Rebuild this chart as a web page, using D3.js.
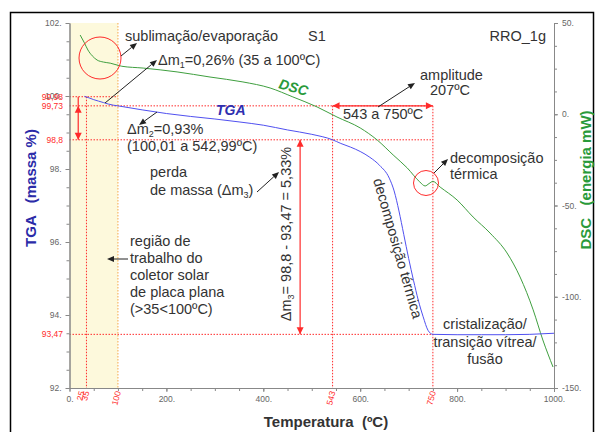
<!DOCTYPE html>
<html>
<head>
<meta charset="utf-8">
<script src="https://cdn.jsdelivr.net/npm/d3@7"></script>
<style>
  body { margin: 0; background: #fff; }
  svg { display: block; font-family: "Liberation Sans", Arial, sans-serif; }
  .ann { font-size: 14.5px; fill: #333; }
  .axis text { font-size: 8.5px; fill: #666; font-family: "Liberation Sans", Arial, sans-serif; }
  .axis path, .axis line { stroke: #888; }
</style>
</head>
<body>
<div id="chart"></div>
<script>
// TGA curve (mass %) vs temperature
const tgaTemp = [31, 40, 50, 60, 70, 80, 90, 100, 150, 200, 250, 300, 350, 400, 450, 500, 543,
                 560, 580, 600, 620, 640, 660, 670, 680, 690, 700, 710, 720, 730, 740, 750,
                 800, 850, 900, 950, 1000];
const tgaMass = [99.99, 99.95, 99.90, 99.86, 99.82, 99.78, 99.75, 99.73, 99.62, 99.52, 99.44, 99.37, 99.29, 99.20, 99.07, 98.95, 98.80,
                 98.70, 98.60, 98.48, 98.32, 98.10, 97.75, 97.40, 96.85, 96.20, 95.55, 94.95, 94.40, 93.95, 93.58, 93.47,
                 93.46, 93.46, 93.46, 93.47, 93.50];
// DSC curve (mW) vs temperature
const dscTemp = [22, 30, 38, 47, 57, 70, 84, 108, 152, 222, 290, 358, 414, 461, 511, 552, 600, 635, 668, 697,
                 723, 734, 742, 750, 765, 800, 833, 868, 903, 930, 957, 977, 998];
const dscPower = [43.4, 39.5, 35.2, 32.0, 29.7, 28.6, 28.0, 26.3, 25.3, 23.2, 20.4, 17.7, 14.4, 9.5, 4.0, -1.5, -7.5, -14.1, -22.3, -29.4,
                  -37.1, -39.3, -38.0, -36.8, -39.9, -47.0, -56.3, -65.1, -76.0, -89.2, -107.2, -123.7, -138.5];

const tempTicks = [0, 200, 400, 600, 800, 1000];
const massTicks = [92, 94, 96, 98, 100, 102];
const powerTicks = [-150, -100, -50, 0, 50];

// reference marks (red)
const refTemps = [25, 35, 100, 543, 750];
const refMass = [99.98, 99.73, 98.8, 93.47];
const refMassLabels = ["99,98", "99,73", "98,8", "93,47"];

const W = 595, H = 432;
const red = "#ff2b2b";

const svg = d3.select("#chart").append("svg")
  .attr("width", W).attr("height", H);

const x = d3.scaleLinear().domain([0, 1000]).range([69.5, 554]);
const yT = d3.scaleLinear().domain([92, 102]).range([388, 23]);
const yD = d3.scaleLinear().domain([-150, 50]).range([388, 23]);

// outer frame
svg.append("rect")
  .attr("x", 10.5).attr("y", 12.5).attr("width", 583).attr("height", 430)
  .attr("fill", "none").attr("stroke", "#000").attr("stroke-width", 1.5);

// working range band 0-100 C
svg.append("rect")
  .attr("x", x(0)).attr("y", yT(102))
  .attr("width", x(100) - x(0)).attr("height", yT(92) - yT(102))
  .attr("fill", "#fdf9dc");

// dotted reference lines
function dotted(x1, y1, x2, y2, color) {
  svg.append("line")
    .attr("x1", x1).attr("y1", y1).attr("x2", x2).attr("y2", y2)
    .attr("stroke", color || red).attr("stroke-width", 1)
    .attr("stroke-dasharray", "1.5,1.5");
}
dotted(x(0), yT(99.98), x(100), yT(99.98));
dotted(x(0), yT(99.73), x(750), yT(99.73));
dotted(x(0), yT(98.8), x(750), yT(98.8));
dotted(x(0), yT(93.47), x(750), yT(93.47));
dotted(x(35), yT(99.98), x(35), yT(92));
dotted(x(543), yT(99.73), x(543), yT(92));
dotted(x(750), yT(99.73), x(750), yT(92));
dotted(x(100), yT(102), x(100), yT(92), "#f5a84a");

// axes
svg.append("g").attr("class", "axis")
  .attr("transform", "translate(" + x(0) + ",0)")
  .call(d3.axisLeft(yT).tickValues(d3.range(92, 102.01, 0.5)).tickSize(3).tickSizeOuter(0).tickFormat(""));
svg.append("g").attr("class", "axis")
  .attr("transform", "translate(" + x(0) + ",0)")
  .call(d3.axisLeft(yT).tickValues(massTicks).tickSize(4).tickPadding(4).tickSizeOuter(0)
    .tickFormat(function(d) { return d + "."; }));

svg.append("g").attr("class", "axis")
  .attr("transform", "translate(" + x(1000) + ",0)")
  .call(d3.axisRight(yD).tickValues(d3.range(-150, 50.01, 12.5)).tickSize(3).tickSizeOuter(0).tickFormat(""));
svg.append("g").attr("class", "axis")
  .attr("transform", "translate(" + x(1000) + ",0)")
  .call(d3.axisRight(yD).tickValues(powerTicks).tickSize(4).tickPadding(4).tickSizeOuter(0)
    .tickFormat(function(d) { return d + "."; }));

svg.append("g").attr("class", "axis")
  .attr("transform", "translate(0," + yT(92) + ")")
  .call(d3.axisBottom(x).tickValues(d3.range(0, 1000.1, 50)).tickSize(3).tickSizeOuter(0).tickFormat(""));
svg.append("g").attr("class", "axis")
  .attr("transform", "translate(0," + yT(92) + ")")
  .call(d3.axisBottom(x).tickValues(tempTicks).tickSize(4).tickPadding(4).tickSizeOuter(0)
    .tickFormat(function(d) { return d + "."; }));

// red reference labels
svg.selectAll(".refm").data(refMass).enter().append("text")
  .attr("class", "refm")
  .attr("x", 63).attr("y", function(d) { return yT(d) + 3; })
  .attr("text-anchor", "end")
  .style("font-size", "8.5px").style("fill", red)
  .text(function(d, i) { return refMassLabels[i]; });

svg.selectAll(".reft").data(refTemps).enter().append("text")
  .attr("class", "reft")
  .attr("transform", function(d) { return "translate(" + (x(d) + 3) + "," + (yT(92) + 4) + ") rotate(-75)"; })
  .attr("text-anchor", "end")
  .style("font-size", "8.5px").style("fill", red)
  .text(function(d) { return d; });

// curves
const tgaLine = d3.line()
  .x(function(d, i) { return x(tgaTemp[i]); })
  .y(function(d) { return yT(d); })
  .curve(d3.curveMonotoneX);
const dscLine = d3.line()
  .x(function(d, i) { return x(dscTemp[i]); })
  .y(function(d) { return yD(d); })
  .curve(d3.curveMonotoneX);

svg.append("path").attr("d", dscLine(dscPower))
  .attr("fill", "none").attr("stroke", "#3f9f3f").attr("stroke-width", 1);
svg.append("path").attr("d", tgaLine(tgaMass))
  .attr("fill", "none").attr("stroke", "#5050f0").attr("stroke-width", 1);

// arrows
function arrow(x1, y1, x2, y2, color, len, wid) {
  color = color || "#222"; len = len || 7; wid = wid || 3;
  const a = Math.atan2(y2 - y1, x2 - x1);
  const bx = x2 - len * Math.cos(a), by = y2 - len * Math.sin(a);
  svg.append("line")
    .attr("x1", x1).attr("y1", y1).attr("x2", bx).attr("y2", by)
    .attr("stroke", color).attr("stroke-width", 1);
  const px = -Math.sin(a) * wid, py = Math.cos(a) * wid;
  svg.append("path")
    .attr("d", "M" + x2 + "," + y2 + "L" + (bx + px) + "," + (by + py) + "L" + (bx - px) + "," + (by - py) + "Z")
    .attr("fill", color);
}
function head(x2, y2, a, color) {
  const len = 7, wid = 3.5;
  const bx = x2 - len * Math.cos(a), by = y2 - len * Math.sin(a);
  const px = -Math.sin(a) * wid, py = Math.cos(a) * wid;
  svg.append("path")
    .attr("d", "M" + x2 + "," + y2 + "L" + (bx + px) + "," + (by + py) + "L" + (bx - px) + "," + (by - py) + "Z")
    .attr("fill", color);
}

// red measure arrows
svg.append("line").attr("x1", x(18)).attr("x2", x(18)).attr("y1", yT(99.98)).attr("y2", yT(98.8))
  .attr("stroke", red).attr("stroke-width", 1.2);
head(x(18), yT(99.73), -Math.PI / 2, red);
head(x(18), yT(98.8), Math.PI / 2, red);

svg.append("line").attr("x1", x(476)).attr("x2", x(476)).attr("y1", yT(98.8)).attr("y2", yT(93.47))
  .attr("stroke", red).attr("stroke-width", 1.2);
head(x(476), yT(98.8), -Math.PI / 2, red);
head(x(476), yT(93.47), Math.PI / 2, red);

svg.append("line").attr("x1", x(543)).attr("x2", x(750)).attr("y1", yT(99.73)).attr("y2", yT(99.73))
  .attr("stroke", red).attr("stroke-width", 1.2);
head(x(543), yT(99.73), Math.PI, red);
head(x(750), yT(99.73), 0, red);

// circles
svg.append("circle").attr("cx", 100).attr("cy", 58).attr("r", 21)
  .attr("fill", "none").attr("stroke", red).attr("stroke-width", 1);
svg.append("circle").attr("cx", 426).attr("cy", 183).attr("r", 12.5)
  .attr("fill", "none").attr("stroke", red).attr("stroke-width", 1);

// black pointer arrows
arrow(121, 56, 137, 43);
arrow(105, 103, 157, 60);
arrow(157, 112, 139, 125);
arrow(257, 192, 279, 172);
arrow(128, 259, 107, 259);
arrow(378, 107, 415, 83);
arrow(434, 173, 448, 159);

// texts
function txt(px, py, s, anchor) {
  return svg.append("text").attr("class", "ann")
    .attr("x", px).attr("y", py)
    .attr("text-anchor", anchor || "start")
    .text(s);
}
function subTxt(sel, parts) {
  parts.forEach(function(p) {
    if (p[1]) sel.append("tspan").attr("dy", 3).style("font-size", "9px").text(p[0]);
    else sel.append("tspan").attr("dy", p[2] || 0).text(p[0]);
  });
  return sel;
}

txt(125, 41, "sublimação/evaporação");
txt(308, 41, "S1");
txt(546, 41, "RRO_1g", "end");

subTxt(svg.append("text").attr("class", "ann").attr("x", 158).attr("y", 65),
  [["Δm"], ["1", true], ["=0,26% (35 a 100ºC)", false, -3]]);
subTxt(svg.append("text").attr("class", "ann").attr("x", 127).attr("y", 134),
  [["Δm"], ["2", true], ["=0,93%", false, -3]]);
txt(127, 151, "(100,01 a 542,99ºC)");

txt(150, 177, "perda");
subTxt(svg.append("text").attr("class", "ann").attr("x", 150).attr("y", 195),
  [["de massa (Δm"], ["3", true], [")", false, -3]]);

const regiao = ["região de", "trabalho do", "coletor solar", "de placa plana", "(>35<100ºC)"];
regiao.forEach(function(s, i) { txt(130, 246 + i * 17, s); });

txt(420, 80, "amplitude");
txt(450, 95, "207ºC", "middle");
txt(343, 119, "543 a 750ºC");
txt(450, 163, "decomposição");
txt(450, 179, "térmica");

svg.append("text").attr("class", "ann")
  .attr("transform", "translate(373,180) rotate(74)")
  .text("decomposição térmica");

subTxt(svg.append("text").attr("class", "ann")
  .attr("transform", "translate(291,234) rotate(-90)")
  .attr("text-anchor", "middle"),
  [["Δm"], ["3", true], ["= 98,8 - 93,47 = 5,33%", false, -3]]);

["cristalização/", "transição vítrea/", "fusão"].forEach(function(s, i) {
  txt(485, 329 + i * 17.5, s, "middle");
});

svg.append("text")
  .attr("x", 216).attr("y", 115)
  .style("font-size", "14px").style("font-weight", "bold").style("font-style", "italic")
  .style("fill", "#2f2fb0").text("TGA");
svg.append("text")
  .attr("transform", "translate(278,88) rotate(16)")
  .style("font-size", "14px").style("font-weight", "bold").style("font-style", "italic")
  .style("fill", "#2a9a3a").text("DSC");

// axis titles
svg.append("text")
  .attr("transform", "translate(36,188) rotate(-90)")
  .attr("text-anchor", "middle")
  .attr("xml:space", "preserve")
  .style("white-space", "pre")
  .style("font-size", "15px").style("font-weight", "bold").style("fill", "#2b2ba8")
  .text("TGA   (massa %)");
svg.append("text")
  .attr("transform", "translate(591,180) rotate(-90)")
  .attr("text-anchor", "middle")
  .style("white-space", "pre")
  .style("font-size", "15px").style("font-weight", "bold").style("fill", "#2a9a3a")
  .text("DSC   (energia mW)");
svg.append("text")
  .attr("x", 326).attr("y", 427)
  .attr("text-anchor", "middle")
  .style("white-space", "pre")
  .style("font-size", "15px").style("font-weight", "bold").style("fill", "#333")
  .text("Temperatura  (ºC)");
</script>
</body>
</html>
